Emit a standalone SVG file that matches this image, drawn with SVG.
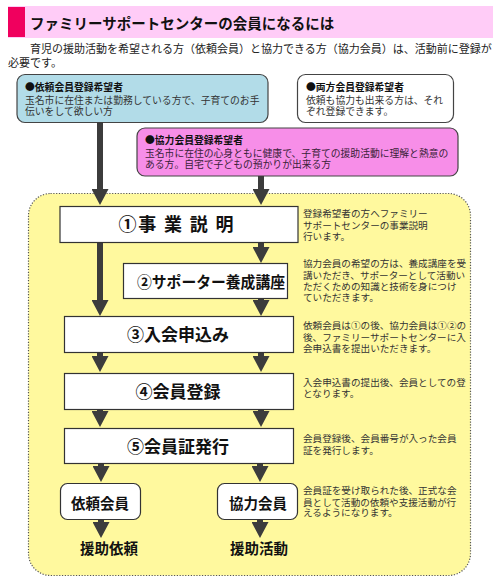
<svg xmlns="http://www.w3.org/2000/svg" width="501" height="583" viewBox="0 0 501 583">
<style>
text{font-family:"Noto Sans CJK JP","Noto Sans CJK SC",sans-serif;}
.b{font-weight:bold;fill:#111;}
.step{fill:#fff;stroke:#333;stroke-width:1.2;}
.st{font-size:17px;font-weight:bold;fill:#111;text-anchor:middle;}
.d{font-size:9.6px;fill:#333;}
.bt{font-size:9.8px;}
.sh{fill:none;stroke:#3c3c3c;stroke-width:6;}
</style>
<defs>
<marker id="ah" markerUnits="userSpaceOnUse" markerWidth="16" markerHeight="17" refX="0" refY="8.5" orient="auto" viewBox="0 0 16 17">
<path d="M0,0 L16,8.5 L0,17 z" fill="#3c3c3c"/>
</marker>
</defs>
<rect width="501" height="583" fill="#fff"/>
<g id="title">
<rect x="8" y="6" width="485" height="32" fill="#FFCCF7"/>
<rect x="8" y="7" width="17" height="30" fill="#F0005E"/>
<text x="30" y="29" class="b" font-size="14.5">ファミリーサポートセンターの会員になるには</text>
</g>
<g id="intro" fill="#222">
<text x="30" y="53" style="font-size:11px">育児の援助活動を希望される方（依頼会員）と協力できる方（協力会員）は、活動前に登録が</text>
<text x="8" y="67" style="font-size:11px">必要です。</text>
</g>
<g id="region">
<rect x="28.5" y="193.5" width="442" height="382" rx="22" fill="#FFF99E" stroke="#555" stroke-width="1.2" stroke-dasharray="1.2,1.6"/>
</g>
<g id="irai-kibou">
<rect x="17" y="74.5" width="251" height="48" rx="8" fill="#B2DCE8" stroke="#444" stroke-width="1.2"/>
<text x="25" y="91" class="b bt">●依頼会員登録希望者</text>
<text x="25" y="104" class="bt" fill="#333">玉名市に在住または勤務している方で、子育てのお手</text>
<text x="25" y="115" class="bt" fill="#333">伝いをして欲しい方</text>
</g>
<g id="ryouhou-kibou">
<rect x="297.5" y="74.5" width="156" height="48" rx="8" fill="#fff" stroke="#444" stroke-width="1.2"/>
<text x="306" y="91" class="b bt">●両方会員登録希望者</text>
<text x="306" y="104" class="bt" fill="#333">依頼も協力も出来る方は、それ</text>
<text x="306" y="115" class="bt" fill="#333">ぞれ登録できます。</text>
</g>
<g id="kyouryoku-kibou">
<rect x="137" y="128" width="321" height="48" rx="8" fill="#F78EE8" stroke="#444" stroke-width="1.2"/>
<text x="145" y="144" class="b bt">●協力会員登録希望者</text>
<text x="145" y="157" class="bt" fill="#3a2238">玉名市に在住の心身ともに健康で、子育ての援助活動に理解と熱意の</text>
<text x="145" y="168" class="bt" fill="#3a2238">ある方。自宅で子どもの預かりが出来る方</text>
</g>
<g id="connectors">
<line x1="100" y1="122" x2="100" y2="189" class="sh" marker-end="url(#ah)"/>
<line x1="261" y1="176" x2="261" y2="189" class="sh" marker-end="url(#ah)"/>
<line x1="261" y1="242" x2="261" y2="247" class="sh" marker-end="url(#ah)"/>
<line x1="100" y1="242" x2="100" y2="300" class="sh" marker-end="url(#ah)"/>
<line x1="261" y1="298" x2="261" y2="300" class="sh" marker-end="url(#ah)"/>
<line x1="100" y1="352" x2="100" y2="356" class="sh" marker-end="url(#ah)"/>
<line x1="261" y1="352" x2="261" y2="356" class="sh" marker-end="url(#ah)"/>
<line x1="100" y1="409" x2="100" y2="411" class="sh" marker-end="url(#ah)"/>
<line x1="261" y1="409" x2="261" y2="411" class="sh" marker-end="url(#ah)"/>
<line x1="101" y1="463" x2="101" y2="466" class="sh" marker-end="url(#ah)"/>
<line x1="260" y1="463" x2="260" y2="466" class="sh" marker-end="url(#ah)"/>
<line x1="101" y1="519" x2="101" y2="522" class="sh" marker-end="url(#ah)"/>
<line x1="260" y1="519" x2="260" y2="522" class="sh" marker-end="url(#ah)"/>
</g>
<g id="step1">
<rect x="60" y="206.5" width="238" height="36" class="step"/>
<text x="176" y="231" class="st" style="font-size:18px" textLength="115" lengthAdjust="spacing">①事 業 説 明</text>
<text x="303" y="217" class="d">登録希望者の方へファミリー</text>
<text x="303" y="229" class="d">サポートセンターの事業説明</text>
<text x="303" y="240" class="d">行います。</text>
</g>
<g id="step2">
<rect x="123.5" y="263.5" width="164" height="35" class="step"/>
<text x="211" y="288" class="st" style="font-size:15.5px" textLength="148" lengthAdjust="spacingAndGlyphs">②サポーター養成講座</text>
<text x="303" y="267" class="d">協力会員の希望の方は、養成講座を受</text>
<text x="303" y="279" class="d">講いただき、サポーターとして活動い</text>
<text x="303" y="290" class="d">ただくための知識と技術を身につけ</text>
<text x="303" y="301" class="d">ていただきます。</text>
</g>
<g id="step3">
<rect x="64.5" y="316.5" width="229" height="36" class="step"/>
<text x="178" y="341" class="st">③入会申込み</text>
<text x="303" y="329" class="d">依頼会員は①の後、協力会員は①②の</text>
<text x="303" y="341" class="d">後、ファミリーサポートセンターに入</text>
<text x="303" y="352" class="d">会申込書を提出いただきます。</text>
</g>
<g id="step4">
<rect x="64.5" y="373.5" width="229" height="36" class="step"/>
<text x="178" y="398" class="st">④会員登録</text>
<text x="303" y="386" class="d">入会申込書の提出後、会員としての登</text>
<text x="303" y="397" class="d">となります。</text>
</g>
<g id="step5">
<rect x="64.5" y="428.5" width="229" height="35" class="step"/>
<text x="178" y="453" class="st">⑤会員証発行</text>
<text x="303" y="442" class="d">会員登録後、会員番号が入った会員</text>
<text x="303" y="454" class="d">証を発行します。</text>
</g>
<g id="irai-member">
<rect x="60.5" y="483.5" width="80" height="36" rx="7" class="step"/>
<text x="100" y="509" class="st" style="font-size:14.5px">依頼会員</text>
</g>
<g id="kyouryoku-member">
<rect x="217.5" y="483.5" width="80" height="36" rx="7" class="step"/>
<text x="258" y="509" class="st" style="font-size:14.5px">協力会員</text>
<text x="303" y="494" class="d">会員証を受け取られた後、正式な会</text>
<text x="303" y="506" class="d">員として活動の依頼や支援活動が行</text>
<text x="303" y="516" class="d">えるようになります。</text>
</g>
<g id="enjo-irai">
<text x="109" y="554" class="st" style="font-size:14.5px">援助依頼</text>
</g>
<g id="enjo-katsudou">
<text x="259" y="554" class="st" style="font-size:14.5px">援助活動</text>
</g>
</svg>
